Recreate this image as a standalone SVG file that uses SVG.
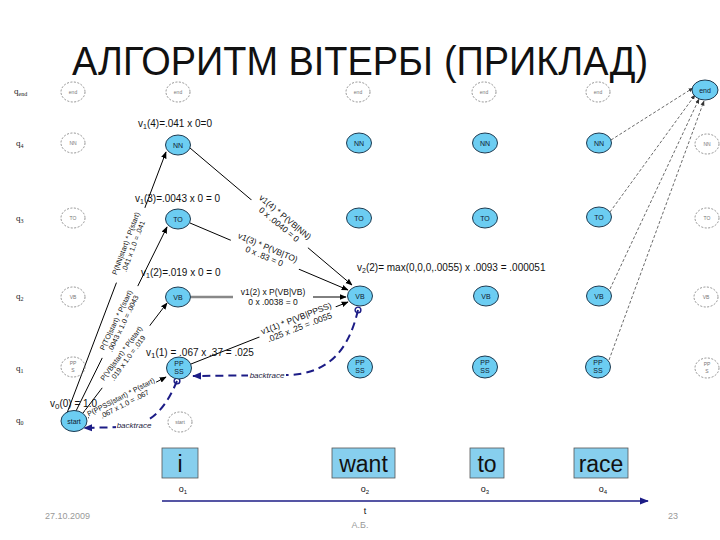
<svg xmlns="http://www.w3.org/2000/svg" width="720" height="540" viewBox="0 0 720 540">
<defs>
<marker id="ah" viewBox="0 0 10 10" refX="9" refY="5" markerWidth="7" markerHeight="7" orient="auto" markerUnits="userSpaceOnUse"><path d="M0,1 L10,5 L0,9 z" fill="#000"/></marker>
<marker id="ahs" viewBox="0 0 10 10" refX="9" refY="5" markerWidth="5" markerHeight="5" orient="auto" markerUnits="userSpaceOnUse"><path d="M0,1 L10,5 L0,9 z" fill="#333"/></marker>
<marker id="ahb" viewBox="0 0 10 10" refX="9" refY="5" markerWidth="9" markerHeight="9" orient="auto" markerUnits="userSpaceOnUse"><path d="M0,1 L10,5 L0,9 z" fill="#1c1c86"/></marker>
<marker id="dot" viewBox="0 0 10 10" refX="5" refY="5" markerWidth="8" markerHeight="8" markerUnits="userSpaceOnUse"><circle cx="5" cy="5" r="3.6" fill="none" stroke="#1c1c86" stroke-width="1.8"/></marker>
</defs>
<style>
text{font-family:"Liberation Sans",Arial,sans-serif}
.bn{fill:#6ccdf2;stroke:#1e3a50;stroke-width:1}
.fn{fill:none;stroke:#777;stroke-width:0.8;stroke-dasharray:2 1.5}
.nt{font-size:7px;text-anchor:middle;fill:#102030}
.ft{font-size:5px;text-anchor:middle;fill:#777}
.e{stroke:#000;stroke-width:1;fill:none;marker-end:url(#ah)}
.eg{stroke:#888;stroke-width:2.5;fill:none}
.lb{font-size:7.2px;text-anchor:middle;fill:#111}
.lm{font-size:8.5px;text-anchor:middle;fill:#111}
.vl{font-size:10px;fill:#111}
.bt{stroke:#1c1c86;stroke-width:2;stroke-dasharray:8 5;fill:none}
.btl{font-size:8px;font-style:italic;fill:#1a1a40;text-anchor:middle}
.dt{stroke:#444;stroke-width:0.8;stroke-dasharray:3 2;fill:none;marker-end:url(#ahs)}
.q{font-size:9px;fill:#222;font-family:"Liberation Serif",serif}
.wb{fill:#87cfee;stroke:#555;stroke-width:0.8}
.wt{font-size:23px;text-anchor:middle;fill:#111}
.ob{font-size:9px;text-anchor:middle;fill:#111}
.ftx{font-size:9px;fill:#999}
</style>
<rect width="720" height="540" fill="#fff"/>
<text x="360" y="75" font-size="40" text-anchor="middle" textLength="576" lengthAdjust="spacingAndGlyphs" fill="#111">АЛГОРИТМ ВІТЕРБІ (ПРИКЛАД)</text>

<g id="row-labels">
<text class="q" x="14" y="94">q<tspan font-size="6" dy="2">end</tspan></text>
<text class="q" x="16" y="146">q<tspan font-size="6" dy="2">4</tspan></text>
<text class="q" x="16" y="221">q<tspan font-size="6" dy="2">3</tspan></text>
<text class="q" x="16" y="299">q<tspan font-size="6" dy="2">2</tspan></text>
<text class="q" x="16" y="371">q<tspan font-size="6" dy="2">1</tspan></text>
<text class="q" x="16" y="423">q<tspan font-size="6" dy="2">0</tspan></text>
</g>

<g id="connectors">
<line class="e" x1="67" y1="413" x2="166" y2="152"/>
<line class="e" x1="75" y1="413" x2="167" y2="227"/>
<line class="e" x1="83" y1="413" x2="167" y2="303"/>
<line class="e" x1="88" y1="418" x2="166" y2="377"/>
<line class="e" x1="190" y1="148" x2="352" y2="285"/>
<line class="e" x1="190" y1="223" x2="348" y2="290"/>
<line class="eg" x1="191" y1="297" x2="313" y2="297"/>
<line class="e" x1="300" y1="297" x2="346" y2="297"/>
<line class="e" x1="191" y1="364" x2="348" y2="302"/>
<line class="dt" x1="611" y1="140" x2="693" y2="88"/>
<line class="dt" x1="610" y1="212" x2="695" y2="95"/>
<line class="dt" x1="610" y1="289" x2="699" y2="99"/>
<line class="dt" x1="609" y1="360" x2="704" y2="101"/>
<path class="bt" d="M358,310 C350,345 332,375 285,375 L193,376" marker-start="url(#dot)" marker-end="url(#ahb)"/>
<path class="bt" d="M177,381 C168,402 155,426 122,427 L84,428" marker-start="url(#dot)" marker-end="url(#ahb)"/>
<line stroke="#1c1c86" stroke-width="1.5" x1="162" y1="501" x2="648" y2="501" marker-end="url(#ahb)"/>

<g transform="translate(130,245) rotate(-69.4)"><rect x="-40" y="-9" width="80" height="17" fill="#fff"/><text class="lb" y="-2">P(NN|start) * P(start)</text><text class="lb" y="6">.041 x 1.0 = .041</text></g>
<g transform="translate(120,322) rotate(-64.2)"><rect x="-40" y="-9" width="80" height="17" fill="#fff"/><text class="lb" y="-2">P(TO|start) * P(start)</text><text class="lb" y="6">.0043 x 1.0 = .0043</text></g>
<g transform="translate(125,356) rotate(-53.7)"><rect x="-39" y="-9" width="78" height="17" fill="#fff"/><text class="lb" y="-2">P(VB|start) * P(start)</text><text class="lb" y="6">.019 x 1.0 = .019</text></g>
<g transform="translate(123,401) rotate(-27.4)"><rect x="-38" y="-9" width="76" height="17" fill="#fff"/><text class="lb" y="-2">P(PPSS|start) * P(start)</text><text class="lb" y="6">.067 x 1.0 = .067</text></g>
<g transform="translate(282,221) rotate(39.8)"><rect x="-37" y="-10" width="74" height="20" fill="#fff"/><text class="lm" y="-2">v1(4) * P(VB|NN)</text><text class="lm" y="7.5">0 x .0040 = 0</text></g>
<g transform="translate(266,252) rotate(22.8)"><rect x="-37" y="-10" width="74" height="20" fill="#fff"/><text class="lm" y="-2">v1(3) * P(VB|TO)</text><text class="lm" y="7.5">0 x .83 = 0</text></g>
<g transform="translate(273,297)"><rect x="-40" y="-10" width="80" height="20" fill="#fff"/><text class="lm" font-size="9" y="-2">v1(2) x P(VB|VB)</text><text class="lm" font-size="9" y="8">0 x .0038 = 0</text></g>
<g transform="translate(298,323) rotate(-21.1)"><rect x="-41" y="-10" width="82" height="20" fill="#fff"/><text class="lm" y="-2">v1(1) * P(VB|PPSS)</text><text class="lm" y="7.5">.025 x .25 = .0055</text></g>
<rect x="248" y="369" width="38" height="11" fill="#fff"/><text class="btl" x="267" y="378">backtrace</text>
<rect x="116" y="420" width="37" height="11" fill="#fff"/><text class="btl" x="134" y="428">backtrace</text>
</g>

<g id="faint-nodes">
<g id="f-end0"><ellipse class="fn" cx="73" cy="92" rx="12" ry="10"/><text class="ft" x="73" y="94">end</text></g>
<g id="f-nn0"><ellipse class="fn" cx="73" cy="143" rx="12" ry="10"/><text class="ft" x="73" y="145">NN</text></g>
<g id="f-to0"><ellipse class="fn" cx="73" cy="218" rx="12" ry="10"/><text class="ft" x="73" y="220">TO</text></g>
<g id="f-vb0"><ellipse class="fn" cx="73" cy="297" rx="12" ry="10"/><text class="ft" x="73" y="299">VB</text></g>
<g id="f-pp0"><ellipse class="fn" cx="73" cy="367" rx="12" ry="10"/><text class="ft" x="73" y="365">PP</text><text class="ft" x="73" y="372">S</text></g>
<g id="f-end1"><ellipse class="fn" cx="178" cy="92" rx="12" ry="10"/><text class="ft" x="178" y="94">end</text></g>
<g id="f-start1"><ellipse class="fn" cx="180" cy="422" rx="12" ry="10"/><text class="ft" x="180" y="424">start</text></g>
<g id="f-end2"><ellipse class="fn" cx="358" cy="92" rx="12" ry="10"/><text class="ft" x="358" y="94">end</text></g>
<g id="f-end3"><ellipse class="fn" cx="484" cy="92" rx="12" ry="10"/><text class="ft" x="484" y="94">end</text></g>
<g id="f-end4"><ellipse class="fn" cx="598" cy="92" rx="12" ry="10"/><text class="ft" x="598" y="94">end</text></g>
<g id="f-nn5"><ellipse class="fn" cx="707" cy="144" rx="12" ry="10"/><text class="ft" x="707" y="146">NN</text></g>
<g id="f-to5"><ellipse class="fn" cx="707" cy="218" rx="12" ry="10"/><text class="ft" x="707" y="220">TO</text></g>
<g id="f-vb5"><ellipse class="fn" cx="706" cy="297" rx="12" ry="10"/><text class="ft" x="706" y="299">VB</text></g>
<g id="f-pp5"><ellipse class="fn" cx="707" cy="368" rx="12" ry="10"/><text class="ft" x="707" y="366">PP</text><text class="ft" x="707" y="373">S</text></g>
</g>

<g id="n-start"><ellipse class="bn" cx="74" cy="421" rx="13" ry="10.5"/><text class="nt" x="74" y="423.5" font-size="6">start</text></g>
<g id="n-end"><ellipse class="bn" cx="705" cy="90" rx="13" ry="10"/><text class="nt" x="705" y="92.5" font-size="6">end</text></g>

<g id="n-nn1"><ellipse class="bn" cx="178" cy="145" rx="12.5" ry="10"/><text class="nt" x="178" y="147.5">NN</text></g>
<g id="n-to1"><ellipse class="bn" cx="178" cy="219" rx="12.5" ry="10"/><text class="nt" x="178" y="221.5">TO</text></g>
<g id="n-vb1"><ellipse class="bn" cx="178" cy="297" rx="12.5" ry="10"/><text class="nt" x="178" y="299.5">VB</text></g>
<g id="n-pp1"><ellipse class="bn" cx="179" cy="368" rx="12.5" ry="11"/><text class="nt" x="179" y="366">PP</text><text class="nt" x="179" y="374">SS</text></g>

<g id="n-nn2"><ellipse class="bn" cx="359" cy="143" rx="12.5" ry="10"/><text class="nt" x="359" y="145.5">NN</text></g>
<g id="n-to2"><ellipse class="bn" cx="359" cy="218" rx="12.5" ry="10"/><text class="nt" x="359" y="220.5">TO</text></g>
<g id="n-vb2"><ellipse class="bn" cx="360" cy="296" rx="12.5" ry="10"/><text class="nt" x="360" y="298.5">VB</text></g>
<g id="n-pp2"><ellipse class="bn" cx="360" cy="367" rx="12.5" ry="11"/><text class="nt" x="360" y="365">PP</text><text class="nt" x="360" y="373">SS</text></g>

<g id="n-nn3"><ellipse class="bn" cx="485" cy="143" rx="12.5" ry="10"/><text class="nt" x="485" y="145.5">NN</text></g>
<g id="n-to3"><ellipse class="bn" cx="485" cy="218" rx="12.5" ry="10"/><text class="nt" x="485" y="220.5">TO</text></g>
<g id="n-vb3"><ellipse class="bn" cx="486" cy="296" rx="12.5" ry="10"/><text class="nt" x="486" y="298.5">VB</text></g>
<g id="n-pp3"><ellipse class="bn" cx="485" cy="367" rx="12.5" ry="11"/><text class="nt" x="485" y="365">PP</text><text class="nt" x="485" y="373">SS</text></g>

<g id="n-nn4"><ellipse class="bn" cx="599" cy="143" rx="12.5" ry="10"/><text class="nt" x="599" y="145.5">NN</text></g>
<g id="n-to4"><ellipse class="bn" cx="599" cy="217" rx="12.5" ry="10"/><text class="nt" x="599" y="219.5">TO</text></g>
<g id="n-vb4"><ellipse class="bn" cx="599" cy="296" rx="12.5" ry="10"/><text class="nt" x="599" y="298.5">VB</text></g>
<g id="n-pp4"><ellipse class="bn" cx="598" cy="367" rx="12.5" ry="11"/><text class="nt" x="598" y="365">PP</text><text class="nt" x="598" y="373">SS</text></g>

<g id="values">
<text class="vl" x="138" y="127">v<tspan font-size="7" dy="2">1</tspan><tspan dy="-2">(4)=.041  x 0=0</tspan></text>
<text class="vl" x="135" y="202">v<tspan font-size="7" dy="2">1</tspan><tspan dy="-2">(3)=.0043 x 0 = 0</tspan></text>
<text class="vl" x="141" y="276">v<tspan font-size="7" dy="2">1</tspan><tspan dy="-2">(2)=.019 x 0 = 0</tspan></text>
<text class="vl" font-size="12.5" x="146" y="356">v<tspan font-size="8" dy="2">1</tspan><tspan dy="-2">(1) = .067 x .37 = .025</tspan></text>
<text class="vl" font-size="12" x="50" y="407">v<tspan font-size="8" dy="2">0</tspan><tspan dy="-2">(0) = 1.0</tspan></text>
<text class="vl" x="357" y="271">v<tspan font-size="7" dy="2">2</tspan><tspan dy="-2">(2)= max(0,0,0,.0055) x .0093 = .000051</tspan></text>
</g>

<g id="words">
<g id="w-i"><rect class="wb" x="162" y="448" width="36" height="30"/><text class="wt" x="180" y="472">i</text></g>
<g id="w-want"><rect class="wb" x="332" y="448" width="63" height="30"/><text class="wt" x="363.5" y="472">want</text></g>
<g id="w-to"><rect class="wb" x="470" y="448" width="34" height="30"/><text class="wt" x="487" y="472">to</text></g>
<g id="w-race"><rect class="wb" x="574" y="448" width="54" height="30"/><text class="wt" x="601" y="472">race</text></g>
<text class="ob" x="183" y="492">o<tspan font-size="6" dy="2">1</tspan></text>
<text class="ob" x="365" y="492">o<tspan font-size="6" dy="2">2</tspan></text>
<text class="ob" x="485" y="492">o<tspan font-size="6" dy="2">3</tspan></text>
<text class="ob" x="603" y="492">o<tspan font-size="6" dy="2">4</tspan></text>
<text class="ob" x="365" y="514" font-size="10">t</text>
</g>

<text class="ftx" x="45" y="519">27.10.2009</text>
<text class="ftx" x="360" y="528" text-anchor="middle">А.Б.</text>
<text class="ftx" x="668" y="519">23</text>
</svg>
